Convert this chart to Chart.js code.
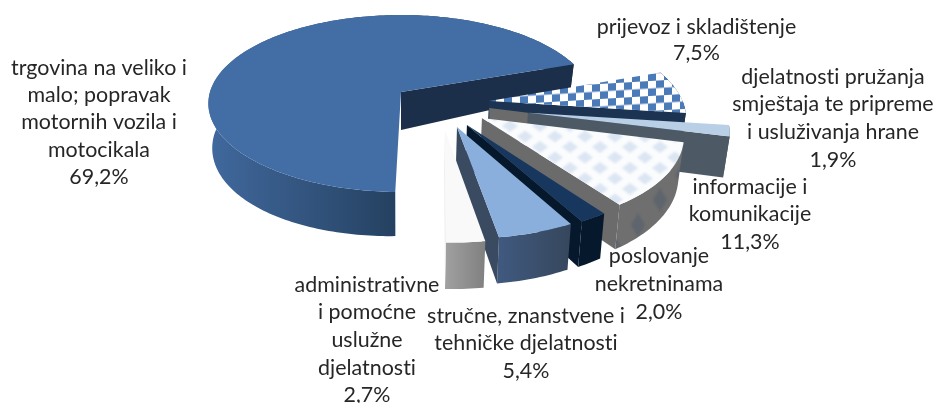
<!DOCTYPE html>
<html><head><meta charset="utf-8">
<style>html,body{margin:0;padding:0;background:#fff}canvas{display:block}</style>
<script src="https://cdn.jsdelivr.net/npm/chart.js@4"></script>
</head><body><canvas id="c" width="939" height="403"></canvas>
<script>
// DATA
const categories = ['trgovina na veliko i malo; popravak motornih vozila i motocikala','prijevoz i skladištenje','djelatnosti pružanja smještaja te pripreme i usluživanja hrane','informacije i komunikacije','poslovanje nekretninama','stručne, znanstvene i tehničke djelatnosti','administrativne i pomoćne uslužne djelatnosti'];
const shares = [69.2, 7.5, 1.9, 11.3, 2.0, 5.4, 2.7];
const valueLabels = ['69,2%','7,5%','1,9%','11,3%','2,0%','5,4%','2,7%'];
const labelLines = [
 ['trgovina na veliko i','malo; popravak','motornih vozila i','motocikala'],
 ['prijevoz i skladištenje'],
 ['djelatnosti pružanja','smještaja te pripreme','i usluživanja hrane'],
 ['informacije i','komunikacije'],
 ['poslovanje','nekretninama'],
 ['stručne, znanstvene i','tehničke djelatnosti'],
 ['administrativne','i pomoćne','uslužne','djelatnosti']
];
// STYLE
const labelAt = [[99,68,27.3],[696.5,27,26],[833,77,27.6],[750,187,27.5],[659,256,28],[526,316,27.5],[367,285,27.6]];
const explode = [[0,0],[.4546,.102],[.645,.23],[.408,.2877],[.329,.361],[.2786,.382],[.218,.413]];
const wallColors = [['#41699e','#24405f'],['#1c3352','#1c3352'],['#4d5a66','#4d5a66'],['#6e6e6e','#6b6b6b'],['#06182c','#06182c'],['#40597f','#36475c'],['#a0a0a0','#808080']];
const cutColors = ['#1c2f4a','#1c3352','#4d5a66','#6b6b6b','#06182c','#3a4a60','#eeeeee'];
const STRETCH_X = 191/92, STRETCH_Y = 87/92, PERSP = .13, ROT = 181.5;

function tile(w,h,fn,skew){
  const t=document.createElement('canvas');t.width=w;t.height=h;const g=t.getContext('2d');fn(g,w,h);
  const p=document.createElement('canvas').getContext('2d').createPattern(t,'repeat');
  if(skew)p.setTransform(new DOMMatrix([1,skew,0,1,0,0]));
  return p;
}
const diamond=(g,x,y,a,b)=>{g.beginPath();g.moveTo(x-a,y);g.lineTo(x,y-b);g.lineTo(x+a,y);g.lineTo(x,y+b);g.closePath();g.fill();};
const checker=tile(16,15,(g,w,h)=>{g.fillStyle='#fff';g.fillRect(0,0,w,h);g.fillStyle='#4a7ab8';g.fillRect(0,0,8,7.5);g.fillRect(8,7.5,8,7.5);},-.06);
const blobs=(bg,fg,w,h,a,b)=>tile(w,h,(g)=>{g.fillStyle=bg;g.fillRect(0,0,w,h);g.filter='blur(0.8px)';g.fillStyle=fg;
  [[0,0],[w,0],[0,h],[w,h],[w/2,h/2]].forEach(p=>diamond(g,p[0],p[1],a,b));});
const topFills=['#436ea5',checker,'#b8cfe6',blobs('#fbfcfd','#dce6f3',30,21,8,6),'#17375e','#8aafdc','#f9f9f9'];
const infoWall=blobs('#6f6f6f','#5f656c',44,50,7,12);

class Arc3D extends Chart.ArcElement{
  static id='arc3d';
  paint3d(ctx,i){
    const {x,y,outerRadius:R,startAngle:a0,endAngle:a1}=this;
    const [ou,ov]=explode[i];
    const P=(u,v)=>{const w=1-PERSP*v;return [x+R*STRETCH_X*u/w,y+R*STRETCH_Y*v/w];};
    const depth=(u,v)=>38+6*Math.max(v,0)+33*Math.min(v,0)*Math.max(u,0)+6*Math.max(0,-u);
    const Q=(u,v)=>{const p=P(u,v);return [p[0]-(p[0]-x)*.02,p[1]+depth(u,v)];};
    const rim=[];const n=Math.max(6,Math.ceil((a1-a0)/.02));
    for(let k=0;k<=n;k++){const a=a0+(a1-a0)*k/n;rim.push([ou+Math.cos(a),ov+Math.sin(a)]);}
    const poly=(pts,fill)=>{ctx.beginPath();pts.forEach((p,k)=>k?ctx.lineTo(p[0],p[1]):ctx.moveTo(p[0],p[1]));ctx.closePath();ctx.fillStyle=fill;ctx.fill();};
    const top=rim.map(r=>P(r[0],r[1]));const low=rim.map(r=>Q(r[0],r[1]));
    // grey sliver behind the thin wedge's apex
    if(i===2){const e=[ou-.2*Math.cos(a1),ov-.2*Math.sin(a1)];const A=P(e[0],e[1]),B=P(ou,ov);
      poly([A,B,[B[0],B[1]+12],[A[0],A[1]+12]],'#6b6b6b');}
    // outer wall: a strip of quads in one path, so the silhouette joins rim and base
    const xs=top.map(p=>p[0]);const minX=Math.min(...xs),maxX=Math.max(...xs);
    const g=ctx.createLinearGradient(minX,0,i===0?x:maxX,0);g.addColorStop(0,wallColors[i][0]);g.addColorStop(1,wallColors[i][1]);
    ctx.beginPath();
    for(let k=0;k<n;k++){ctx.moveTo(top[k][0],top[k][1]);ctx.lineTo(top[k+1][0],top[k+1][1]);ctx.lineTo(low[k+1][0],low[k+1][1]);ctx.lineTo(low[k][0],low[k][1]);ctx.closePath();}
    ctx.fillStyle=i===3?infoWall:g;ctx.fill();
    // radial cut at the clockwise end
    const c=P(ou,ov),cb=Q(ou,ov),e=top[top.length-1],eb=low[low.length-1];
    poly([c,e,eb,cb],cutColors[i]);
    // upper face
    poly([c].concat(top),this.options.backgroundColor);
  }
  draw(){}
}
class Pie3D extends Chart.PieController{
  static id='pie3d';
  static defaults={...Chart.PieController.defaults,dataElementType:'arc3d'};
  static overrides=Chart.PieController.overrides;
  draw(){const ctx=this.chart.ctx;this.getMeta().data.forEach((a,i)=>a.paint3d(ctx,i));}
}
Chart.register(Arc3D,Pie3D);

const textPlugin={id:'sliceText',afterDraw(chart){
  const ctx=chart.ctx;ctx.save();ctx.font='21.4px Lato';ctx.letterSpacing='0.02px';ctx.fillStyle='#262626';ctx.textAlign='center';ctx.textBaseline='middle';
  labelLines.forEach((lines,i)=>{const [x,y,lh]=labelAt[i];
    lines.concat(valueLabels[i]).forEach((t,k)=>ctx.fillText(t,x,y+k*lh));});
  ctx.restore();
}};
new Chart(document.getElementById('c'),{type:'pie3d',
  data:{labels:categories,datasets:[{data:shares,backgroundColor:topFills,borderWidth:0}]},
  options:{responsive:false,animation:false,rotation:ROT,
    layout:{padding:{left:0,top:0,right:137,bottom:219}},
    plugins:{legend:{display:false},tooltip:{enabled:false}}},
  plugins:[textPlugin]});
</script></body></html>
